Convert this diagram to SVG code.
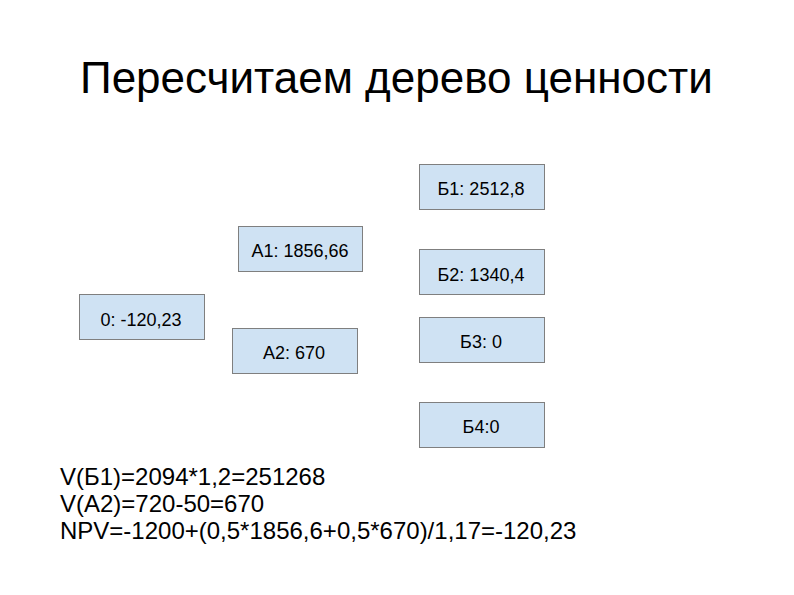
<svg xmlns="http://www.w3.org/2000/svg" width="794" height="595" viewBox="0 0 794 595">
<style>
.box{fill:#cfe2f3;stroke:#7f7f7f;stroke-width:1}
.lbl{font-family:"Liberation Sans",Arial,sans-serif;font-size:18px;fill:#000;text-anchor:middle}
.title{font-family:"Liberation Sans",Arial,sans-serif;font-size:44px;fill:#000}
.note{font-family:"Liberation Sans",Arial,sans-serif;font-size:24px;fill:#000}
</style>
<rect width="794" height="595" fill="#fff"/>
<text class="title" x="80" y="93">Пересчитаем дерево ценности</text>
<g id="connectors"></g>
<g id="node-b1"><rect class="box" x="419.5" y="164.5" width="125" height="45"/><text class="lbl" x="481" y="195">Б1: 2512,8</text></g>
<g id="node-a1"><rect class="box" x="238.5" y="226.5" width="124" height="45"/><text class="lbl" x="300" y="257">А1: 1856,66</text></g>
<g id="node-b2"><rect class="box" x="419.5" y="249.5" width="125" height="45"/><text class="lbl" x="481" y="281">Б2: 1340,4</text></g>
<g id="node-0"><rect class="box" x="79.5" y="294.5" width="125" height="45"/><text class="lbl" x="141" y="326">0: -120,23</text></g>
<g id="node-a2"><rect class="box" x="232.5" y="328.5" width="125" height="45"/><text class="lbl" x="294" y="359">А2: 670</text></g>
<g id="node-b3"><rect class="box" x="419.5" y="317.5" width="125" height="45"/><text class="lbl" x="481" y="348">Б3: 0</text></g>
<g id="node-b4"><rect class="box" x="419.5" y="402.5" width="125" height="45"/><text class="lbl" x="481" y="433">Б4:0</text></g>
<text class="note" x="60" y="485">V(Б1)=2094*1,2=251268</text>
<text class="note" x="60" y="512">V(А2)=720-50=670</text>
<text class="note" x="60" y="539">NPV=-1200+(0,5*1856,6+0,5*670)/1,17=-120,23</text>
</svg>
